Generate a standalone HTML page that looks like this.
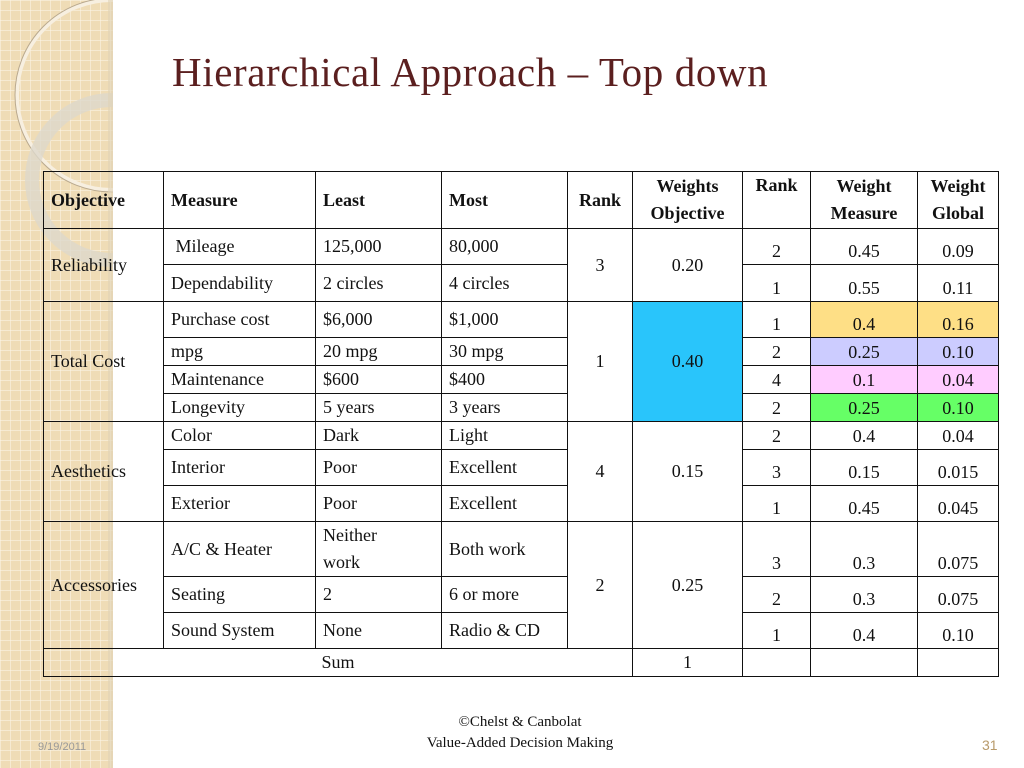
<!DOCTYPE html>
<html><head><meta charset="utf-8">
<style>
html,body{margin:0;padding:0;}
body{width:1024px;height:768px;position:relative;overflow:hidden;background:#fff;font-family:"Liberation Serif",serif;}
#strip{position:absolute;left:0;top:0;width:113px;height:768px;}
#title{position:absolute;left:172px;top:48px;font-size:41px;letter-spacing:0.6px;color:#5b1f1f;white-space:nowrap;font-family:"Liberation Serif",serif;}
table{position:absolute;left:43px;top:171px;border-collapse:collapse;table-layout:fixed;width:955px;font-size:18px;color:#111;}
td{border:1.5px solid #111;padding:0 7px;line-height:27px;vertical-align:middle;overflow:hidden;white-space:nowrap;}
th{border:1.5px solid #111;padding:0 7px;line-height:27px;font-weight:bold;font-size:18px;}
.c{text-align:center;padding:0;}
.b{text-align:center;vertical-align:bottom;padding:0 0 2px 0;line-height:22px;}
.l{text-align:left;}
.wrap{white-space:normal;line-height:27px;}
#foot{position:absolute;left:380px;top:712px;width:280px;text-align:center;font-size:15px;line-height:21px;color:#111;}
#date{position:absolute;left:38px;top:741px;font-size:11px;color:#999;font-family:"Liberation Sans",sans-serif;}
#page{position:absolute;left:982px;top:737px;font-size:14px;color:#b89a6a;font-family:"Liberation Sans",sans-serif;}
</style></head><body>
<svg id="strip" width="113" height="768" viewBox="0 0 113 768">
<defs><pattern id="g" width="10" height="10" patternUnits="userSpaceOnUse"><rect width="10" height="10" fill="#efdcb6"/><path d="M0 0H10M0 0V10" stroke="#fbf3e2" stroke-width="1.3"/></pattern>
<clipPath id="cp"><rect width="113" height="768"/></clipPath></defs>
<rect width="113" height="768" fill="url(#g)"/>
<g clip-path="url(#cp)">
<circle cx="112" cy="95" r="95" fill="none" stroke="#f7efe0" stroke-width="4"/>
<circle cx="112" cy="95" r="97" fill="none" stroke="#b9a98e" stroke-width="1"/>
<circle cx="112" cy="180" r="80" fill="none" stroke="#ddd8cc" stroke-width="14" opacity="0.8"/>
</g>
<rect x="108" width="5" height="768" fill="#e0d2b5" opacity="0.6"/>
</svg>
<div id="title">Hierarchical Approach – Top down</div>
<table>
<colgroup><col style="width:120px"><col style="width:152px"><col style="width:126px"><col style="width:126px"><col style="width:65px"><col style="width:110px"><col style="width:68px"><col style="width:107px"><col style="width:81px"></colgroup>
<tr style="height:57px">
<th class="l">Objective</th><th class="l">Measure</th><th class="l">Least</th><th class="l">Most</th><th class="c">Rank</th>
<th class="c">Weights<br>Objective</th><th class="c" style="vertical-align:top">Rank</th><th class="c">Weight<br>Measure</th><th class="c">Weight<br>Global</th></tr>
<tr style="height:36px"><td rowspan="2">Reliability</td><td>&nbsp;Mileage</td><td>125,000</td><td>80,000</td><td rowspan="2" class="c">3</td><td rowspan="2" class="c">0.20</td><td class="b">2</td><td class="b">0.45</td><td class="b">0.09</td></tr>
<tr style="height:37px"><td>Dependability</td><td>2 circles</td><td>4 circles</td><td class="b">1</td><td class="b">0.55</td><td class="b">0.11</td></tr>
<tr style="height:36px"><td rowspan="4">Total Cost</td><td>Purchase cost</td><td>$6,000</td><td>$1,000</td><td rowspan="4" class="c">1</td><td rowspan="4" class="c" style="background:#29c5fb">0.40</td><td class="b">1</td><td class="b" style="background:#fedf86">0.4</td><td class="b" style="background:#fedf86">0.16</td></tr>
<tr style="height:27px"><td>mpg</td><td>20 mpg</td><td>30 mpg</td><td class="b">2</td><td class="b" style="background:#ccccff">0.25</td><td class="b" style="background:#ccccff">0.10</td></tr>
<tr style="height:27px"><td>Maintenance</td><td>$600</td><td>$400</td><td class="b">4</td><td class="b" style="background:#ffccff">0.1</td><td class="b" style="background:#ffccff">0.04</td></tr>
<tr style="height:27px"><td>Longevity</td><td>5 years</td><td>3 years</td><td class="b">2</td><td class="b" style="background:#66ff66">0.25</td><td class="b" style="background:#66ff66">0.10</td></tr>
<tr style="height:28px"><td rowspan="3">Aesthetics</td><td>Color</td><td>Dark</td><td>Light</td><td rowspan="3" class="c">4</td><td rowspan="3" class="c">0.15</td><td class="b">2</td><td class="b">0.4</td><td class="b">0.04</td></tr>
<tr style="height:36px"><td>Interior</td><td>Poor</td><td>Excellent</td><td class="b">3</td><td class="b">0.15</td><td class="b">0.015</td></tr>
<tr style="height:36px"><td>Exterior</td><td>Poor</td><td>Excellent</td><td class="b">1</td><td class="b">0.45</td><td class="b">0.045</td></tr>
<tr style="height:55px"><td rowspan="3">Accessories</td><td>A/C &amp; Heater</td><td class="wrap">Neither<br>work</td><td>Both work</td><td rowspan="3" class="c">2</td><td rowspan="3" class="c">0.25</td><td class="b">3</td><td class="b">0.3</td><td class="b">0.075</td></tr>
<tr style="height:36px"><td>Seating</td><td>2</td><td>6 or more</td><td class="b">2</td><td class="b">0.3</td><td class="b">0.075</td></tr>
<tr style="height:36px"><td>Sound System</td><td>None</td><td>Radio &amp; CD</td><td class="b">1</td><td class="b">0.4</td><td class="b">0.10</td></tr>
<tr style="height:26px"><td colspan="5" class="c">Sum</td><td class="c">1</td><td></td><td></td><td></td></tr>
</table>
<div id="foot">©Chelst &amp; Canbolat<br>Value-Added Decision Making</div>
<div id="date">9/19/2011</div>
<div id="page">31</div>
</body></html>
